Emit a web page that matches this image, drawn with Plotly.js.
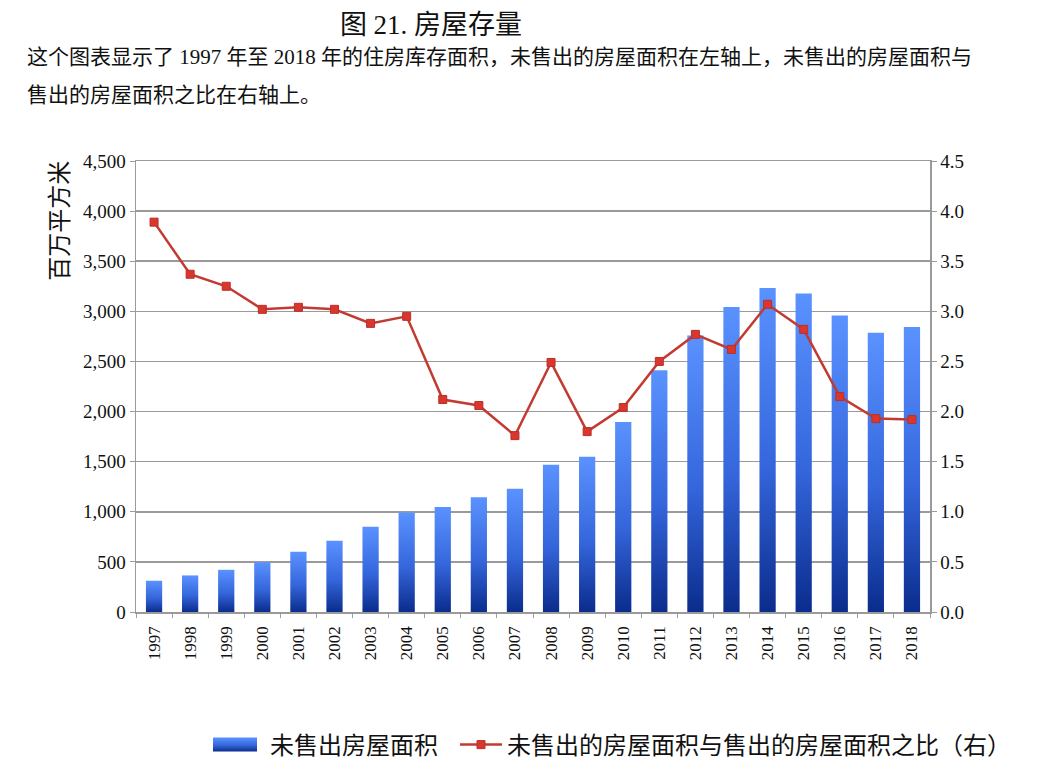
<!DOCTYPE html>
<html>
<head>
<meta charset="utf-8">
<script src="https://cdn.plot.ly/plotly-3.0.1.min.js"></script>
<style>
  body { margin: 0; background: #fff; }
  #chart { width: 1048px; height: 772px; }
</style>
</head>
<body>
<div id="chart"></div>
<script>
const years = ['1997', '1998', '1999', '2000', '2001', '2002', '2003', '2004', '2005', '2006', '2007',
               '2008', '2009', '2010', '2011', '2012', '2013', '2014', '2015', '2016', '2017', '2018'];

// 未售出房屋面积 (百万平方米)
const unsoldArea = [312, 365, 421, 497, 600, 712, 851, 994, 1048, 1146, 1230,
                    1468, 1549, 1895, 2412, 2760, 3042, 3234, 3178, 2959, 2786, 2843];

// 未售出 / 售出 比率 (右轴)
const unsoldRatio = [3.89, 3.37, 3.25, 3.02, 3.04, 3.02, 2.88, 2.95, 2.12, 2.06, 1.76,
                     2.49, 1.80, 2.04, 2.50, 2.77, 2.62, 3.07, 2.82, 2.15, 1.93, 1.92];

const serif = '"Liberation Serif", "Noto Sans CJK SC", serif';
const gridGrey = '#9a9a9a';
const legendFont = { family: serif, size: 24, color: '#111' };

const traces = [
    {
        x: years,
        y: unsoldArea,
        type: 'bar',
        name: '未售出房屋面积',
        marker: { color: '#3367e0' },
        hoverinfo: 'skip'
    },
    {
        x: years,
        y: unsoldRatio,
        type: 'scatter',
        mode: 'lines+markers',
        name: '未售出的房屋面积与售出的房屋面积之比（右）',
        yaxis: 'y2',
        legend: 'legend2',
        line: { color: '#c23b32', width: 2.5 },
        marker: { symbol: 'square', size: 8, color: '#d9372e', line: { color: '#b8302a', width: 1 } },
        hoverinfo: 'skip'
    }
];

const layout = {
    width: 1048,
    height: 772,
    paper_bgcolor: '#fff',
    plot_bgcolor: '#fff',
    margin: { l: 136, r: 118, t: 161, b: 160, autoexpand: false },
    font: { family: serif, color: '#111', size: 15 },
    showlegend: true,
    bargap: 0.55,
    title: {
        text: '图 21. 房屋存量',
        font: { family: serif, size: 27, color: '#111' },
        x: 431 / 1048,
        xanchor: 'center',
        y: 1 - 25 / 772,
        yanchor: 'middle'
    },
    xaxis: {
        type: 'category',
        range: [-0.5, years.length - 0.5],
        tickangle: -90,
        tickfont: { family: serif, size: 17, color: '#111' },
        ticklabelstandoff: 6,
        showline: true,
        mirror: true,
        linecolor: gridGrey,
        linewidth: 1.5,
        ticks: 'outside',
        tickson: 'boundaries',
        ticklen: 4,
        tickcolor: gridGrey,
        showgrid: false,
        fixedrange: true
    },
    yaxis: {
        range: [0, 4500],
        dtick: 500,
        tickformat: ',',
        tickfont: { family: serif, size: 19, color: '#111' },
        showline: true,
        linecolor: gridGrey,
        linewidth: 1.5,
        ticks: 'outside',
        ticklen: 5,
        tickcolor: gridGrey,
        showgrid: true,
        gridcolor: gridGrey,
        gridwidth: 1.5,
        zeroline: false,
        fixedrange: true
    },
    yaxis2: {
        overlaying: 'y',
        side: 'right',
        range: [0, 4.5],
        dtick: 0.5,
        tickformat: '.1f',
        tickfont: { family: serif, size: 19, color: '#111' },
        showline: true,
        linecolor: gridGrey,
        linewidth: 1.5,
        ticks: 'outside',
        ticklen: 5,
        tickcolor: gridGrey,
        showgrid: false,
        zeroline: false,
        fixedrange: true
    },
    legend: {
        orientation: 'h',
        x: (200 - 136) / 794,
        xanchor: 'left',
        y: (612 - 745) / 451,
        yanchor: 'middle',
        font: legendFont,
        itemwidth: 60
    },
    legend2: {
        orientation: 'h',
        x: (455 - 136) / 794,
        xanchor: 'left',
        y: (612 - 745) / 451,
        yanchor: 'middle',
        font: legendFont,
        itemwidth: 42
    },
    annotations: [
        {
            text: '这个图表显示了 1997 年至 2018 年的住房库存面积，未售出的房屋面积在左轴上，未售出的房屋面积与',
            xref: 'paper', yref: 'paper',
            x: (25 - 136) / 794, xanchor: 'left',
            y: (612 - 57) / 451, yanchor: 'middle',
            showarrow: false,
            font: { family: serif, size: 21, color: '#111' }
        },
        {
            text: '售出的房屋面积之比在右轴上。',
            xref: 'paper', yref: 'paper',
            x: (25 - 136) / 794, xanchor: 'left',
            y: (612 - 95) / 451, yanchor: 'middle',
            showarrow: false,
            font: { family: serif, size: 21, color: '#111' }
        },
        {
            text: '百万平方米',
            xref: 'paper', yref: 'paper',
            x: (60 - 136) / 794, xanchor: 'center',
            y: 1.005, yanchor: 'top',
            textangle: -90,
            showarrow: false,
            font: { family: serif, size: 24, color: '#111' }
        }
    ]
};

Plotly.newPlot('chart', traces, layout, { staticPlot: true }).then(function (gd) {
    // give every bar the light-to-dark blue fade of the original
    const svg = gd.querySelector('.main-svg');
    const ns = 'http://www.w3.org/2000/svg';
    let defs = svg.querySelector('defs');
    if (!defs) {
        defs = document.createElementNS(ns, 'defs');
        svg.insertBefore(defs, svg.firstChild);
    }
    const grad = document.createElementNS(ns, 'linearGradient');
    grad.setAttribute('id', 'barFade');
    grad.setAttribute('x1', '0');
    grad.setAttribute('y1', '0');
    grad.setAttribute('x2', '0');
    grad.setAttribute('y2', '1');
    [['0', '#5a92ff'], ['0.55', '#3566dc'], ['1', '#0a2c8c']].forEach(function (s) {
        const stop = document.createElementNS(ns, 'stop');
        stop.setAttribute('offset', s[0]);
        stop.setAttribute('stop-color', s[1]);
        grad.appendChild(stop);
    });
    defs.appendChild(grad);
    gd.querySelectorAll('.bars .point path').forEach(function (p) {
        p.style.fill = 'url(#barFade)';
    });

    // the bar legend key is a wide flat box in the original
    const barKey = gd.querySelector('.legend .traces .legendpoints path');
    if (barKey) {
        barKey.setAttribute('d', 'M-22,-7H22V7H-22Z');
        barKey.style.fill = 'url(#barFade)';
    }
});
</script>
</body>
</html>
